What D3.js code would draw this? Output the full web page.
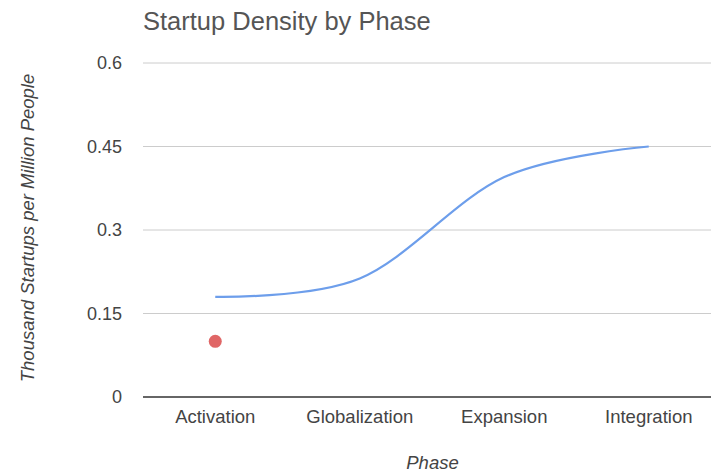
<!DOCTYPE html>
<html>
<head>
<meta charset="utf-8">
<script src="https://cdn.jsdelivr.net/npm/d3@7"></script>
<style>
body { margin: 0; background: #fff; }
text { font-family: Arial, "Liberation Sans", sans-serif; }
</style>
</head>
<body>
<div id="chart"></div>
<script>
var phases = ["Activation", "Globalization", "Expansion", "Integration"];
var densityLine = [0.18, 0.213, 0.395, 0.45];
var densityPoint = [0.10, null, null, null];
var yTicks = [0, 0.15, 0.3, 0.45, 0.6];

var width = 711, height = 473;
var padding = {left: 143, right: -10, top: 63, bottom: 76};

var svg = d3.select("#chart")
	.append("svg")
	.attr("width", width)
	.attr("height", height);

var xScale = d3.scaleBand()
	.domain(phases)
	.range([padding.left, width - padding.right])
	.padding(0);

var yScale = d3.scaleLinear()
	.domain([0, 0.6])
	.range([height - padding.bottom, padding.top]);

// gridlines
svg.append("g")
	.selectAll("line")
	.data(yTicks.filter(function(d){ return d !== 0; }))
	.enter()
	.append("line")
	.attr("x1", padding.left)
	.attr("x2", width)
	.attr("y1", function(d){ return yScale(d); })
	.attr("y2", function(d){ return yScale(d); })
	.attr("stroke", "#cccccc")
	.attr("stroke-width", 1);

var yAxis = d3.axisLeft(yScale)
	.tickValues(yTicks)
	.tickFormat(function(d){ return String(d); })
	.tickSizeInner(0)
	.tickSizeOuter(0)
	.tickPadding(21);

var yG = svg.append("g")
	.attr("transform", "translate(" + padding.left + ",0)")
	.call(yAxis);
yG.select(".domain").remove();
yG.selectAll("text")
	.attr("fill", "#444")
	.style("font-size", "18px");

var xAxis = d3.axisBottom(xScale)
	.tickSizeInner(0)
	.tickSizeOuter(0)
	.tickPadding(13);

var xG = svg.append("g")
	.attr("transform", "translate(0," + yScale(0) + ")")
	.call(xAxis);
xG.select(".domain")
	.attr("d", "M" + padding.left + ",0H" + width)
	.attr("stroke", "#333")
	.attr("stroke-width", 1.3);
xG.selectAll("text")
	.attr("fill", "#444")
	.style("font-size", "18.5px");

var cx = function(d, i){ return xScale(phases[i]) + xScale.bandwidth() / 2; };

var line = d3.line()
	.x(function(d, i){ return cx(d, i); })
	.y(function(d){ return yScale(d); })
	.curve(d3.curveCardinal.tension(0));

svg.append("path")
	.datum(densityLine)
	.attr("fill", "none")
	.attr("stroke", "#6d9eeb")
	.attr("stroke-width", 2.2)
	.attr("d", line);

svg.append("g")
	.selectAll("circle")
	.data(densityPoint)
	.enter()
	.filter(function(d){ return d !== null; })
	.append("circle")
	.attr("cx", function(d){ return cx(d, densityPoint.indexOf(d)); })
	.attr("cy", function(d){ return yScale(d); })
	.attr("r", 6.5)
	.attr("fill", "#e06666");

svg.append("text")
	.attr("x", 143)
	.attr("y", 30)
	.attr("fill", "#555")
	.style("font-size", "25.5px")
	.text("Startup Density by Phase");

svg.append("text")
	.attr("transform", "translate(34,228) rotate(-90)")
	.attr("text-anchor", "middle")
	.attr("fill", "#444")
	.style("font-size", "18.5px")
	.style("font-style", "italic")
	.text("Thousand Startups per Million People");

svg.append("text")
	.attr("x", 432.5)
	.attr("y", 468.5)
	.attr("text-anchor", "middle")
	.attr("fill", "#444")
	.style("font-size", "18.5px")
	.style("font-style", "italic")
	.text("Phase");
</script>
</body>
</html>
